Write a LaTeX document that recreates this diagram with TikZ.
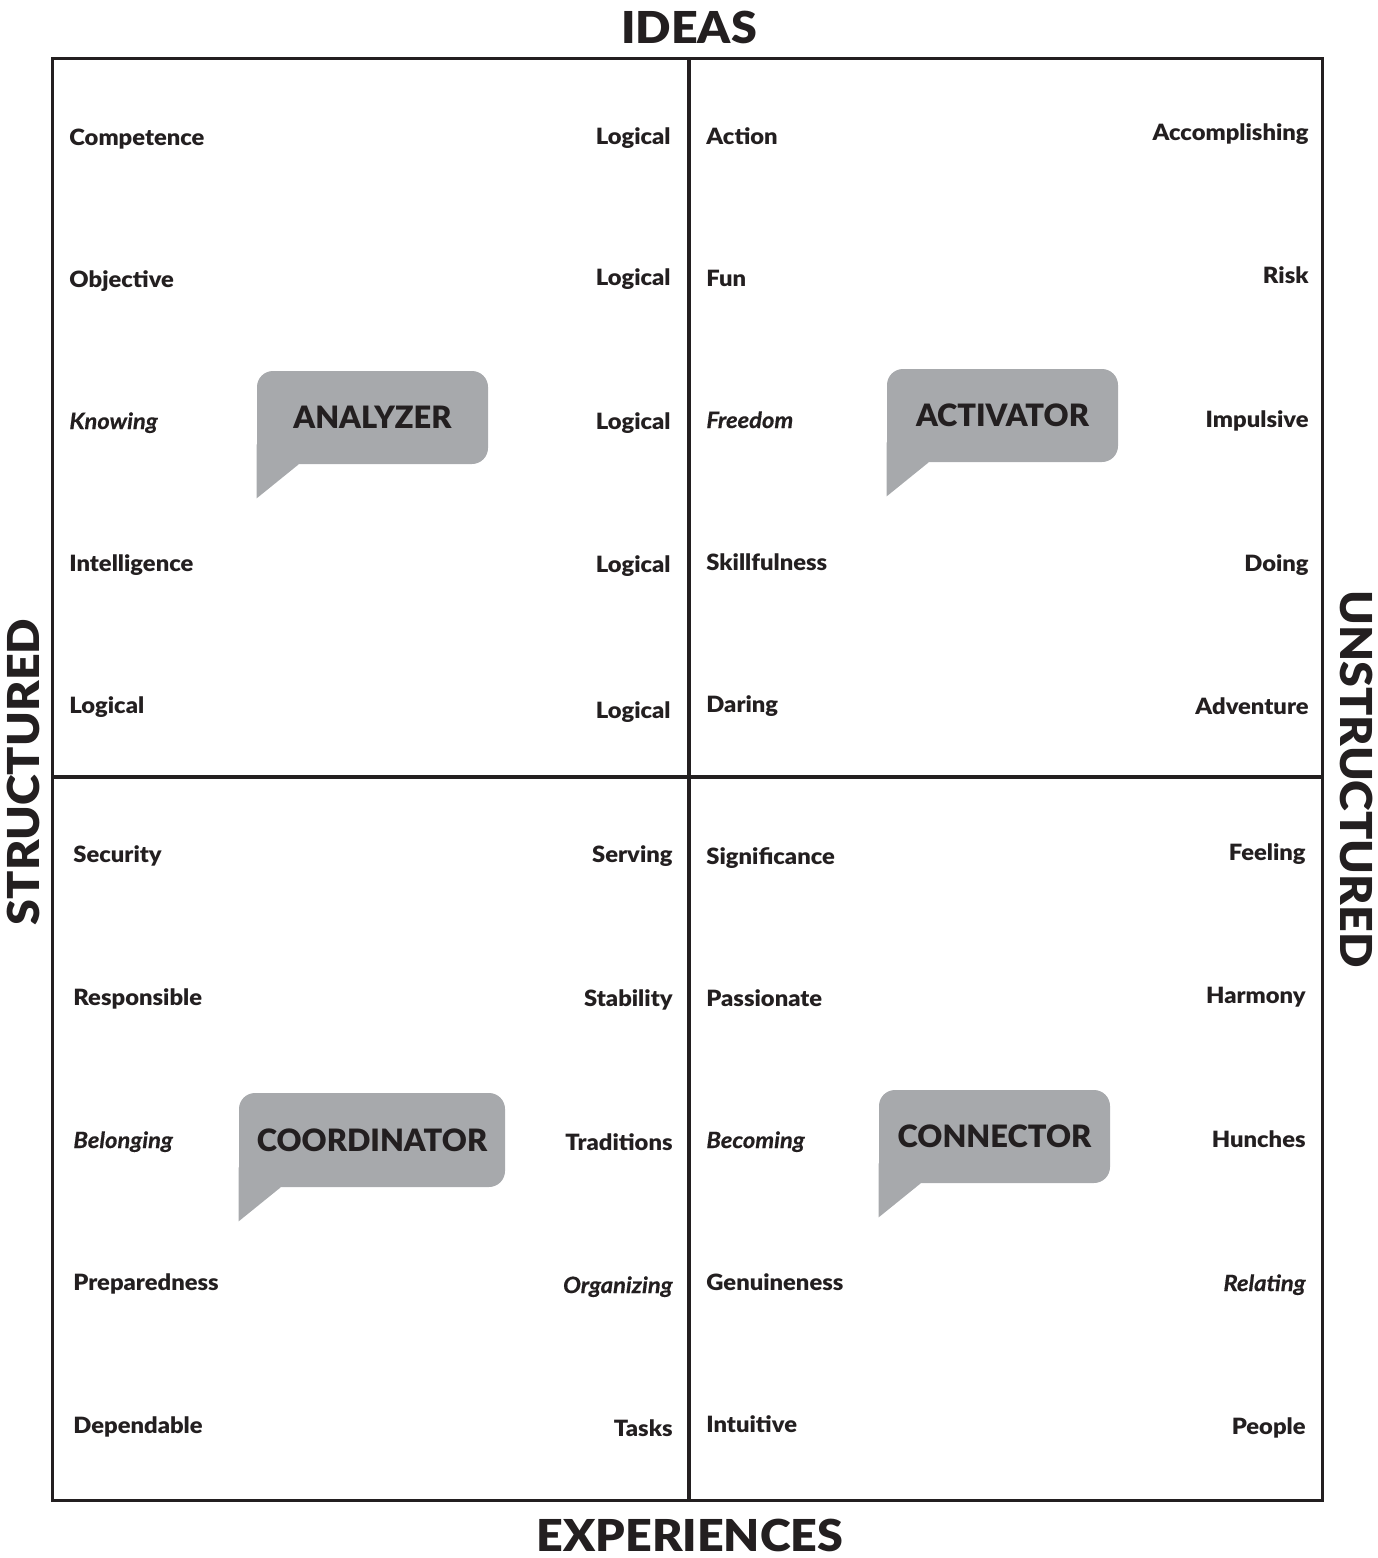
\documentclass[tikz,border=0pt]{standalone}
\usepackage{fontspec}
\setmainfont{Lato}[BoldFont={Lato Black}]
\newfontfamily\widefont{Lato Black}[FakeStretch=1.06, ItalicFont={Lato Bold Italic}, ItalicFeatures={FakeStretch=1.06, FakeBold=0.6}]
\definecolor{inkblack}{HTML}{231F20}
\definecolor{bubblegray}{HTML}{A7A9AC}
\begin{document}
\begin{tikzpicture}[x=0.5pt,y=-0.5pt,
    word/.style={font=\fontsize{11.2}{13}\selectfont\widefont, text=inkblack, inner sep=0pt},
    bubble/.style={fill=bubblegray, rounded corners=8pt, inner sep=0pt, text=inkblack,
        font=\fontsize{15.4}{18}\selectfont\bfseries},
    heading/.style={font=\fontsize{22}{26}\selectfont\widefont, text=inkblack, inner sep=0pt}]
        \useasboundingbox (0,0) rectangle (1377,1558);
    %Frame
        \draw[inkblack, line width=1.5pt] (52,58) rectangle (1322,1500);
        \draw[inkblack, line width=2pt] (689,58) -- (689,1500);
        \draw[inkblack, line width=2pt] (52,777) -- (1322,777);
    %Headings
        \node[heading] (ideas) at (689,27) {IDEAS};
        \node[heading] (experiences) at (690,1535) {EXPERIENCES};
        \node[heading, rotate=90] (structured) at (23,772) {STRUCTURED};
        \node[heading, rotate=-90] (unstructured) at (1357,779) {UNSTRUCTURED};
    %Bubbles
        \node[bubble, minimum width=115.5pt, minimum height=46.5pt] (analyzer) at (372.5,417.5) {\raisebox{-1.5pt}{ANALYZER}};
        \node[bubble, minimum width=115.5pt, minimum height=46.5pt] (activator) at (1002.5,415.5) {\raisebox{-1.5pt}{ACTIVATOR}};
        \node[bubble, minimum width=133pt, minimum height=47pt] (coordinator) at (372,1140) {\raisebox{-1pt}{COORDINATOR}};
        \node[bubble, minimum width=115.5pt, minimum height=46.5pt] (connector) at (994.5,1136.5) {\raisebox{-1.5pt}{CONNECTOR}};
    %Tails
        \foreach \b in {analyzer,activator,coordinator,connector}
        {
            \fill[bubblegray] (\b.south west) ++(0,-20) -- ++(0,54) -- ++(42,-34) -- ++(0,-20) -- cycle;
        }
    %Top left
        \foreach \y/\txt in {137/Competence,279/Objective,421/{\itshape Knowing},563/Intelligence,705/Logical}
            \node[word, anchor=base west] (tl-\y) at (69,\y+8) {\txt};
        \foreach \y in {136,277,421,564,710}
            \node[word, anchor=base east] (tlr-\y) at (671,\y+8) {Logical};
    %Top right
        \foreach \y/\txt in {136/Action,278/Fun,420/{\itshape Freedom},562/Skillfulness,704/Daring}
            \node[word, anchor=base west] (tr-\y) at (706,\y+8) {\txt};
        \foreach \y/\txt in {132/Accomplishing,275/Risk,419/Impulsive,563/Doing,706/Adventure}
            \node[word, anchor=base east] (trr-\y) at (1309,\y+8) {\txt};
    %Bottom left
        \foreach \y/\txt in {854/Security,997/Responsible,1140/{\itshape Belonging},1282/Preparedness,1425/Dependable}
            \node[word, anchor=base west] (bl-\y) at (73,\y+8) {\txt};
        \foreach \y/\txt in {854/Serving,998/Stability,1142/Traditions,1285/{\itshape Organizing},1428/Tasks}
            \node[word, anchor=base east] (blr-\y) at (673,\y+8) {\txt};
    %Bottom right
        \foreach \y/\txt in {856/Significance,998/Passionate,1140/{\itshape Becoming},1282/Genuineness,1424/Intuitive}
            \node[word, anchor=base west] (br-\y) at (706,\y+8) {\txt};
        \foreach \y/\txt in {852/Feeling,995/Harmony,1139/Hunches,1283/{\itshape Relating},1426/People}
            \node[word, anchor=base east] (brr-\y) at (1306,\y+8) {\txt};
\end{tikzpicture}
\end{document}
